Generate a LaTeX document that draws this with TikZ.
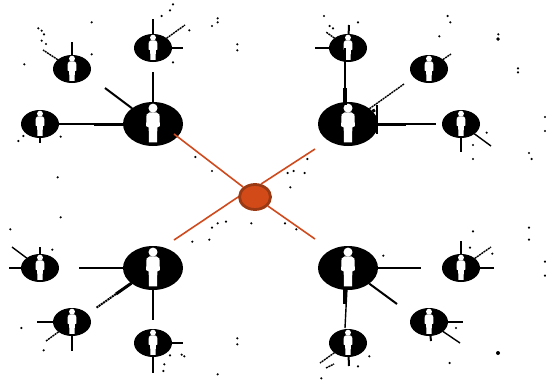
\documentclass[tikz,border=0pt]{standalone}
\usetikzlibrary{shapes.geometric}
\definecolor{hubfill}{HTML}{D24A18}
\definecolor{hubedge}{HTML}{9A3A14}
\definecolor{rust}{HTML}{CF4A1C}
\tikzset{
  big/.style={ellipse,fill=black,minimum width=60pt,minimum height=44pt,inner sep=0pt,outer sep=0pt},
  small/.style={ellipse,fill=black,minimum width=38pt,minimum height=28pt,inner sep=0pt,outer sep=0pt},
  hub/.style={ellipse,fill=hubfill,draw=hubedge,line width=2.8pt,minimum width=31pt,minimum height=25pt,inner sep=0pt,outer sep=1.4pt},
  link/.style={line width=2pt,black},
  thin link/.style={line width=1.4pt,black},
  heavy link/.style={line width=3pt,black},
  dashlink/.style={line width=1.4pt,black,dash pattern=on 2pt off .7pt},
  red link/.style={line width=1.6pt,rust},
  speck/.style={fill=black},
  figure/.pic={
    \fill[white] (0,-7.4) circle (2.1);
    \fill[white] (-1.6,-5.4) -- (1.6,-5.4) -- (3,-4.4) -- (3.2,1) -- (2,1.6) -- (1.9,8.5) -- (-1.9,8.5) -- (-2,1.6) -- (-3.2,1) -- (-3,-4.4) -- cycle;
  }
}
\begin{document}
\begin{tikzpicture}[x=1pt,y=-1pt]
\useasboundingbox (0,0) rectangle (546,381);
% specks, read from the crops (3x), each list with its crop's offset
\foreach \px/\py in {275/67,115/85,125/92,132/103,125/122,138/132,73/193,275/163,519/13,510/31,485/48,653/55,653/67,636/78,568/91,712/133,712/151,519/187,182/410,70/408,55/423,173/532,586/471,636/513}
  \fill[speck] ({\px/3},{\py/3}) circle (1.2);
\foreach \px/\py in {153/48,255/67,170/78,180/85,524/48,532/67,499/109,676/103,676/118,735/205,735/217,816/351,816/393,641/398,600/435,600/477,768/459,776/477,103/477,44/519,62/513,95/519,52/562}
  \fill[speck] ({273+\px/3},{\py/3}) circle (1.2);
\foreach \px/\py in {182/82,31/118,157/179,678/95,653/100,636/113,754/100,577/155,628/149,64/414,131/481,712/445,712/463,510/496,493/523,653/553,545/494,553/499,490/543}
  \fill[speck] ({\px/3},{190+\py/3}) circle (1.2);
\foreach \px/\py in {36/100,70/118,331/197,600/124,768/113,768/149,816/215,816/257,591/173,658/191,549/414,530/519,289/499,255/529,145/565}
  \fill[speck] ({273+\px/3},{190+\py/3}) circle (1.2);
\fill[speck] (498,353) circle (2);
\fill[speck] (498,39) circle (1.8);
% people
\node[big] (tl) at (153,124) {};
\node[big] (tr) at (348,124) {};
\node[big] (bl) at (153,268) {};
\node[big] (br) at (348,268) {};
\node[small] (tl1) at (72,69) {};
\node[small] (tl2) at (153,48) {};
\node[small] (tl3) at (40,124) {};
\node[small] (tr1) at (348,48) {};
\node[small] (tr2) at (429,69) {};
\node[small] (tr3) at (461,124) {};
\node[small] (bl1) at (40,268) {};
\node[small] (bl2) at (72,322) {};
\node[small] (bl3) at (153,343) {};
\node[small] (br1) at (461,268) {};
\node[small] (br2) at (429,322) {};
\node[small] (br3) at (348,343) {};
\foreach \n in {tl,tr,bl,br}
  \pic[scale=2.15] at (\n) {figure};
\foreach \n in {tl1,tl2,tl3,tr1,tr2,tr3,bl1,bl2,bl3,br1,br2,br3}
  \pic[scale=1.4] at (\n) {figure};
% free ends
\foreach \n/\x/\y in {a1/153/72,a2/105/88,a3/153/19,a4/185/25,a5/183/48,a6/72/42,a7/43/50,a8/40/143,
  b1/404/84,b2/436/124,b3/349/25,b4/315/48,b5/326/32,b6/451/54,b7/461/152,b8/491/146,
  c1/79/268,c2/96/308,c3/153/320,c4/40/247,c5/9/268,c6/12/247,c7/37/322,c8/72/351,c9/46/341,c10/183/343,c11/153/373,
  d1/421/268,d2/397/304,d3/345/328,d4/461/241,d5/494/268,d6/491/247,d7/463/322,d8/460/343,d9/431/341,d10/349/366,d11/320/363,
  r1/174/134,r2/315/149,r3/174/240,r4/315/239,bar1/377/105,bar2/377/134,tick1/345/88,tick2/345/48,
  e1/94/124,e2/406/124,e3/375/110,e4/116/294}
  \coordinate (\n) at (\x,\y);
% connectors
\draw[link] (tl) -- (a1);
\draw[link] (tl) -- (a2);
\draw[thin link] (tl) -- (tl3);
\draw[heavy link] (tl) -- (e1);
\draw[link] (tl2) -- (a3);
\draw[dashlink] (tl2) -- (a4);
\draw[link] (tl2) -- (a5);
\draw[link] (tl1) -- (a6);
\draw[dashlink] (tl1) -- (a7);
\draw[link] (tl3) -- (a8);
\draw[thin link] (tick2) -- (345,105);
\draw[line width=4pt] (tick1) -- (345,105);
\draw[dashlink] (tr) -- (b1);
\draw[heavy link] (tr) -- (e3);
\draw[link] (tr) -- (b2);
\draw[heavy link] (tr) -- (e2);
\draw[line width=2pt] (bar1) -- (bar2);
\draw[link] (tr1) -- (b3);
\draw[link] (tr1) -- (b4);
\draw[dashlink] (tr1) -- (b5);
\draw[dashlink] (tr2) -- (b6);
\draw[link] (tr3) -- (b7);
\draw[thin link] (tr3) -- (b8);
\draw[link] (bl) -- (c1);
\draw[dashlink,line width=2pt] (bl) -- (c2);
\draw[heavy link] (bl) -- (e4);
\draw[link] (bl) -- (c3);
\draw[link] (bl1) -- (c4);
\draw[link] (bl1) -- (c5);
\draw[thin link] (bl1) -- (c6);
\draw[link] (bl2) -- (c7);
\draw[link] (bl2) -- (c8);
\draw[dashlink] (bl2) -- (c9);
\draw[link] (bl3) -- (c10);
\draw[link] (bl3) -- (c11);
\draw[link] (br) -- (d1);
\draw[link] (br) -- (d2);
\draw[thin link] (br) -- (d3);
\draw[line width=4pt] (345,288) -- (345,304);
\draw[link] (br1) -- (d4);
\draw[link] (br1) -- (d5);
\draw[dashlink] (br1) -- (d6);
\draw[link] (br2) -- (d7);
\draw[thin link] (br2) -- (d8);
\draw[link] (br2) -- (d9);
\draw[link] (br3) -- (d10);
\draw[dashlink] (br3) -- (d11);
\draw[dashlink] (326,368) -- (334,364);
% hub
\node[hub] (h) at (255,197) {};
\draw[red link] (h.140) -- (r1);
\draw[red link] (h.65) -- (r2);
\draw[red link] (h.180) -- (r3);
\draw[red link] (h.-35) -- (r4);
\end{tikzpicture}
\end{document}
